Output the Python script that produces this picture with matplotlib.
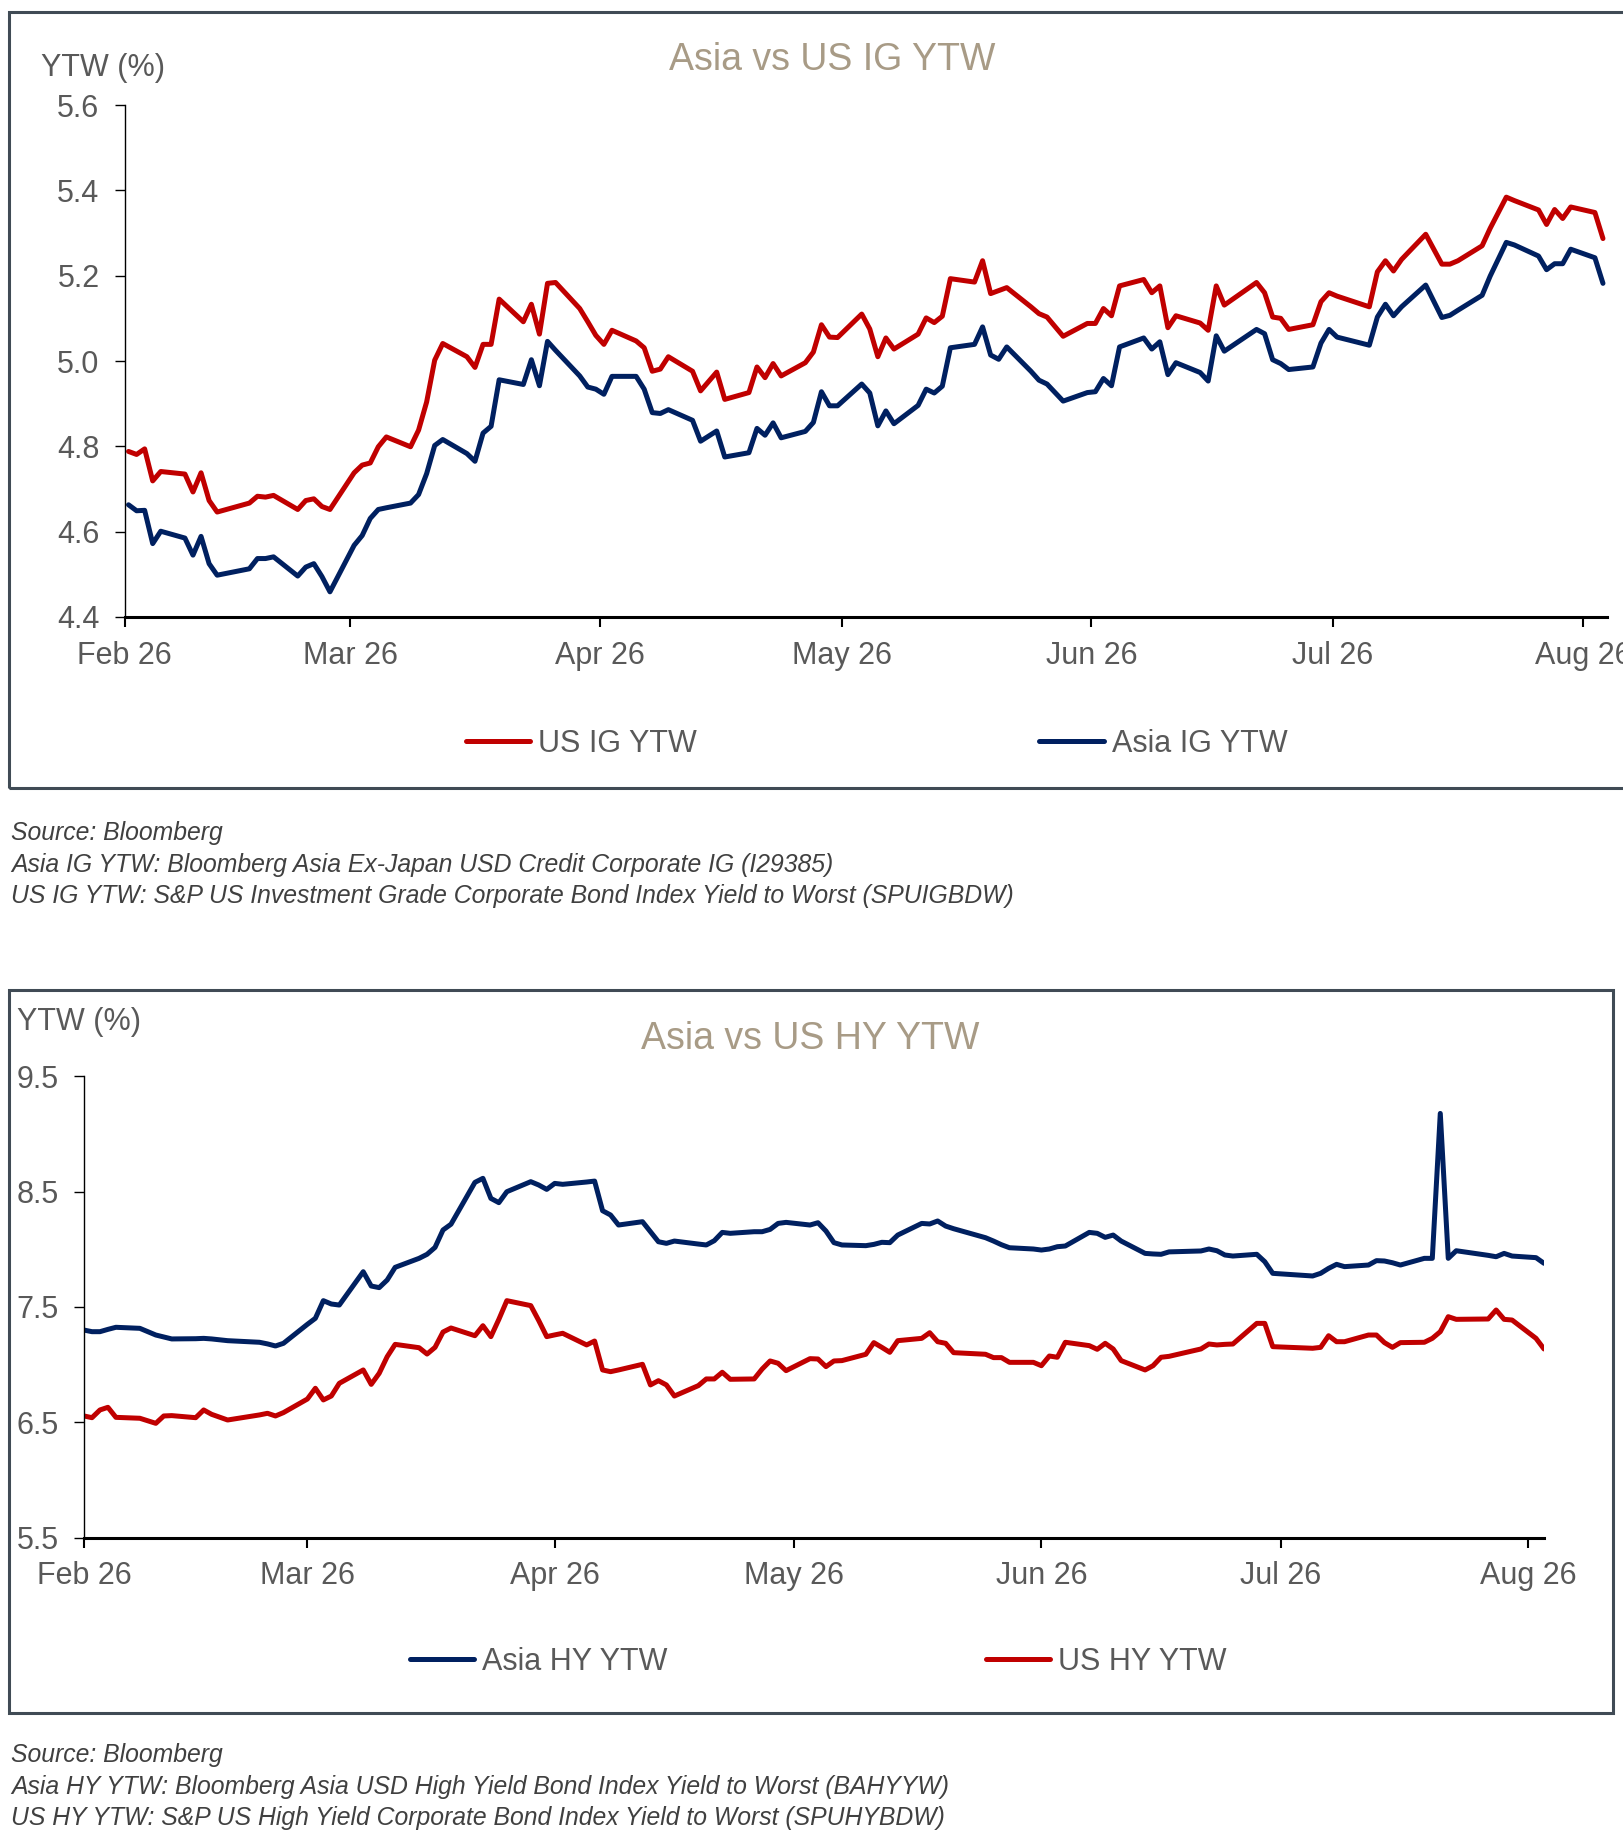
import matplotlib
matplotlib.use("Agg")
import matplotlib.pyplot as plt
import matplotlib.dates as mdates
from matplotlib.patches import Rectangle
from matplotlib.ticker import FixedLocator
import pandas as pd

plt.rcParams['font.family'] = ['Liberation Sans', 'DejaVu Sans']

# ---------------- data ----------------
YEAR = "2026"

ig_dates = [
    "02-02", "02-03", "02-04", "02-05", "02-06", "02-09", "02-10", "02-11", "02-12", "02-13",
    "02-17", "02-18", "02-19", "02-20", "02-23", "02-24", "02-25", "02-26", "02-27",
    "03-02", "03-03", "03-04", "03-05", "03-06", "03-09", "03-10", "03-11", "03-12", "03-13",
    "03-16", "03-17", "03-18", "03-19", "03-20", "03-23", "03-24", "03-25", "03-26", "03-27",
    "03-30", "03-31",
    "04-01", "04-02", "04-03", "04-06", "04-07", "04-08", "04-09", "04-10", "04-13", "04-14",
    "04-16", "04-17", "04-20", "04-21", "04-22", "04-23", "04-24", "04-27", "04-28", "04-29",
    "04-30",
    "05-01", "05-04", "05-05", "05-06", "05-07", "05-08", "05-11", "05-12", "05-13", "05-14",
    "05-15", "05-18", "05-19", "05-20", "05-21", "05-22", "05-25", "05-26", "05-27", "05-29",
    "06-01", "06-02", "06-03", "06-04", "06-05", "06-08", "06-09", "06-10", "06-11", "06-12",
    "06-15", "06-16", "06-17", "06-18", "06-22", "06-23", "06-24", "06-25", "06-26", "06-29",
    "06-30",
    "07-01", "07-02", "07-06", "07-07", "07-08", "07-09", "07-10", "07-13", "07-15", "07-16",
    "07-17", "07-20", "07-21", "07-23", "07-24", "07-27", "07-28", "07-29", "07-30", "07-31",
    "08-03", "08-04",
]
us_ig = [
    4.788, 4.781, 4.794, 4.719, 4.741, 4.735, 4.693, 4.738, 4.673, 4.646,
    4.667, 4.683, 4.681, 4.685, 4.652, 4.673, 4.677, 4.659, 4.652,
    4.738, 4.756, 4.761, 4.799, 4.822, 4.799, 4.838, 4.904, 5.002, 5.041,
    5.010, 4.985, 5.039, 5.039, 5.145, 5.092, 5.133, 5.063, 5.182, 5.184,
    5.123, 5.092,
    5.060, 5.039, 5.072, 5.047, 5.031, 4.976, 4.981, 5.010, 4.976, 4.930,
    4.974, 4.910, 4.926, 4.986, 4.961, 4.994, 4.965, 4.996, 5.021, 5.085,
    5.056,
    5.055, 5.110, 5.075, 5.010, 5.054, 5.028, 5.063, 5.101, 5.090, 5.105,
    5.193, 5.185, 5.235, 5.158, 5.165, 5.172, 5.127, 5.111, 5.103, 5.058,
    5.088, 5.088, 5.123, 5.106, 5.176, 5.191, 5.160, 5.176, 5.078, 5.106,
    5.089, 5.072, 5.176, 5.131, 5.184, 5.160, 5.103, 5.100, 5.074, 5.085,
    5.139,
    5.160, 5.152, 5.127, 5.209, 5.235, 5.211, 5.238, 5.297, 5.227, 5.227,
    5.235, 5.270, 5.311, 5.384, 5.376, 5.354, 5.320, 5.355, 5.334, 5.361,
    5.348, 5.287,
]
asia_ig = [
    4.663, 4.649, 4.650, 4.572, 4.601, 4.585, 4.545, 4.589, 4.525, 4.498,
    4.513, 4.537, 4.537, 4.541, 4.496, 4.517, 4.525, 4.495, 4.459,
    4.568, 4.591, 4.631, 4.652, 4.656, 4.667, 4.687, 4.736, 4.802, 4.816,
    4.783, 4.765, 4.831, 4.847, 4.956, 4.945, 5.003, 4.942, 5.046, 5.025,
    4.965, 4.939,
    4.934, 4.922, 4.964, 4.964, 4.934, 4.879, 4.877, 4.886, 4.861, 4.812,
    4.836, 4.775, 4.785, 4.842, 4.826, 4.855, 4.820, 4.835, 4.856, 4.928,
    4.895,
    4.895, 4.946, 4.925, 4.848, 4.883, 4.853, 4.896, 4.934, 4.925, 4.941,
    5.031, 5.039, 5.080, 5.014, 5.004, 5.033, 4.976, 4.955, 4.946, 4.906,
    4.926, 4.928, 4.959, 4.942, 5.033, 5.054, 5.028, 5.045, 4.968, 4.996,
    4.973, 4.953, 5.059, 5.023, 5.074, 5.064, 5.003, 4.994, 4.980, 4.986,
    5.042,
    5.074, 5.056, 5.037, 5.103, 5.133, 5.106, 5.127, 5.178, 5.102, 5.107,
    5.119, 5.154, 5.199, 5.278, 5.272, 5.246, 5.214, 5.228, 5.228, 5.262,
    5.242, 5.182,
]

hy_dates = [
    "02-02", "02-03", "02-04", "02-05", "02-06", "02-09", "02-11", "02-12", "02-13", "02-16",
    "02-17", "02-18", "02-20", "02-24", "02-25", "02-26", "02-27",
    "03-02", "03-03", "03-04", "03-05", "03-06", "03-09", "03-10", "03-11", "03-12", "03-13",
    "03-16", "03-17", "03-18", "03-19", "03-20", "03-23", "03-24", "03-25", "03-26", "03-27",
    "03-30", "03-31",
    "04-01", "04-02", "04-03", "04-06", "04-07", "04-08", "04-09", "04-10", "04-13", "04-14",
    "04-15", "04-16", "04-17", "04-20", "04-21", "04-22", "04-23", "04-24", "04-27", "04-28",
    "04-29", "04-30",
    "05-01", "05-04", "05-05", "05-06", "05-07", "05-08", "05-11", "05-12", "05-13", "05-14",
    "05-15", "05-18", "05-19", "05-20", "05-21", "05-22", "05-26", "05-27", "05-28", "05-29",
    "06-01", "06-02", "06-03", "06-04", "06-05", "06-08", "06-09", "06-10", "06-11", "06-12",
    "06-15", "06-16", "06-17", "06-18", "06-22", "06-23", "06-24", "06-25", "06-26", "06-29",
    "06-30",
    "07-01", "07-06", "07-07", "07-08", "07-09", "07-10", "07-13", "07-14", "07-15", "07-16",
    "07-17", "07-20", "07-21", "07-22", "07-23", "07-24", "07-28", "07-29", "07-30", "07-31",
    "08-03", "08-04",
]
asia_hy = [
    7.300, 7.286, 7.286, 7.306, 7.324, 7.315, 7.257, 7.240, 7.223, 7.225,
    7.228, 7.223, 7.208, 7.194, 7.180, 7.162, 7.185,
    7.350, 7.402, 7.555, 7.526, 7.517, 7.806, 7.682, 7.668, 7.734, 7.844,
    7.922, 7.957, 8.017, 8.168, 8.218, 8.581, 8.616, 8.442, 8.405, 8.500,
    8.587, 8.558,
    8.520, 8.572, 8.564, 8.584, 8.592, 8.335, 8.298, 8.211, 8.240, 8.153,
    8.066, 8.052, 8.072, 8.046, 8.038, 8.075, 8.147, 8.139, 8.153, 8.153,
    8.173, 8.225,
    8.234, 8.211, 8.231, 8.159, 8.058, 8.038, 8.032, 8.043, 8.061, 8.058,
    8.124, 8.225, 8.220, 8.246, 8.202, 8.179, 8.101, 8.072, 8.040, 8.014,
    8.003, 7.994, 8.003, 8.023, 8.029, 8.147, 8.139, 8.104, 8.124, 8.072,
    7.965, 7.960, 7.957, 7.978, 7.986, 8.003, 7.988, 7.951, 7.942, 7.957,
    7.893,
    7.792, 7.769, 7.792, 7.835, 7.870, 7.850, 7.864, 7.902, 7.899, 7.884,
    7.864, 7.922, 7.922, 9.179, 7.922, 7.988, 7.948, 7.936, 7.965, 7.942,
    7.928, 7.879,
]
us_hy = [
    6.555, 6.540, 6.607, 6.630, 6.543, 6.535, 6.491, 6.555, 6.558, 6.540,
    6.607, 6.569, 6.520, 6.564, 6.578, 6.555, 6.584,
    6.702, 6.795, 6.694, 6.728, 6.838, 6.954, 6.829, 6.925, 7.069, 7.176,
    7.147, 7.092, 7.150, 7.283, 7.318, 7.251, 7.338, 7.243, 7.393, 7.555,
    7.512, 7.382,
    7.243, 7.258, 7.272, 7.171, 7.205, 6.954, 6.939, 6.954, 7.003, 6.824,
    6.861, 6.824, 6.728, 6.818, 6.876, 6.876, 6.934, 6.873, 6.876, 6.962,
    7.032, 7.012,
    6.948, 7.052, 7.049, 6.983, 7.032, 7.035, 7.090, 7.191, 7.150, 7.107,
    7.208, 7.228, 7.277, 7.199, 7.185, 7.104, 7.090, 7.061, 7.061, 7.020,
    7.020, 6.991, 7.075, 7.064, 7.194, 7.165, 7.133, 7.185, 7.136, 7.035,
    6.954, 6.991, 7.064, 7.072, 7.136, 7.179, 7.171, 7.176, 7.179, 7.358,
    7.358,
    7.156, 7.142, 7.150, 7.251, 7.199, 7.199, 7.257, 7.257, 7.191, 7.150,
    7.191, 7.194, 7.228, 7.286, 7.416, 7.393, 7.396, 7.474, 7.393, 7.387,
    7.228, 7.136,
]

month_ticks = ["02-02", "03-02", "04-02", "05-02", "06-02", "07-02", "08-02"]
month_labels = ["Feb 26", "Mar 26", "Apr 26", "May 26", "Jun 26", "Jul 26", "Aug 26"]
ig_yticks = [4.4, 4.6, 4.8, 5.0, 5.2, 5.4, 5.6]
ig_yticklabels = ["4.4", "4.6", "4.8", "5.0", "5.2", "5.4", "5.6"]
hy_yticks = [5.5, 6.5, 7.5, 8.5, 9.5]
hy_yticklabels = ["5.5", "6.5", "7.5", "8.5", "9.5"]

ig_notes = [
    "Source: Bloomberg",
    "Asia IG YTW: Bloomberg Asia Ex-Japan USD Credit Corporate IG (I29385)",
    "US IG YTW: S&P US Investment Grade Corporate Bond Index Yield to Worst (SPUIGBDW)",
]
hy_notes = [
    "Source: Bloomberg",
    "Asia HY YTW: Bloomberg Asia USD High Yield Bond Index Yield to Worst (BAHYYW)",
    "US HY YTW: S&P US High Yield Corporate Bond Index Yield to Worst (SPUHYBDW)",
]

assert len(ig_dates) == len(us_ig) == len(asia_ig)
assert len(hy_dates) == len(asia_hy) == len(us_hy)


def to_dt(lst):
    return pd.to_datetime([f"{YEAR}-{d}" for d in lst])


# ---------------- style ----------------
RED = "#C00000"
NAVY = "#002060"
GREY = "#595959"
TITLE_C = "#A89B86"
FRAME_C = "#404B55"
NOTE_C = "#404040"
LW = 3.6
W, H = 1623, 1835

fig = plt.figure(figsize=(W / 100, H / 100), dpi=100)


def fx(px):
    return px / W


def fy(py):
    return 1 - py / H


def style_axes(ax, yt, ytl, xt, ylim, xlim):
    ax.set_ylim(*ylim)
    ax.set_xlim(*xlim)
    ax.yaxis.set_major_locator(FixedLocator(yt))
    ax.set_yticklabels(ytl)
    ax.xaxis.set_major_locator(FixedLocator(mdates.date2num(to_dt(xt))))
    ax.set_xticklabels(month_labels)
    for s in ("top", "right"):
        ax.spines[s].set_visible(False)
    ax.spines["left"].set_linewidth(1.0)
    ax.spines["bottom"].set_linewidth(2.2)
    ax.tick_params(axis="y", length=7, width=1.0, pad=11, labelsize=22,
                   labelcolor=GREY, direction="out")
    ax.tick_params(axis="x", length=7, width=1.5, pad=10, labelsize=22,
                   labelcolor=GREY, direction="out")
    ax.set_facecolor("none")


# ---------------- IG chart ----------------
ax1 = fig.add_axes([fx(124.5), fy(617), fx(1607) - fx(124.5), 512 / H])
xig = to_dt(ig_dates) + pd.Timedelta(hours=12)
l_us, = ax1.plot(xig, us_ig, color=RED, lw=LW, solid_joinstyle="round",
                 solid_capstyle="round", label="US IG YTW")
l_as, = ax1.plot(xig, asia_ig, color=NAVY, lw=LW, solid_joinstyle="round",
                 solid_capstyle="round", label="Asia IG YTW")
style_axes(ax1, ig_yticks, ig_yticklabels, month_ticks, (4.4, 5.6),
           (pd.Timestamp(f"{YEAR}-02-02"), pd.Timestamp(f"{YEAR}-08-05")))

fig.add_artist(Rectangle((fx(9), fy(788)), fx(1650) - fx(9), (788 - 12) / H,
                         transform=fig.transFigure, fill=False, lw=2.2,
                         edgecolor=FRAME_C, clip_on=False))
fig.text(fx(832), fy(60), "Asia vs US IG YTW", ha="center", va="center",
         fontsize=27, color=TITLE_C)
fig.text(fx(41), fy(68), "YTW (%)", ha="left", va="center", fontsize=22, color=GREY)
fig.legend(handles=[l_us, l_as], loc="center left",
           bbox_to_anchor=(fx(466), fy(744)), ncol=2, frameon=False,
           fontsize=22, handlelength=2.1, handletextpad=0.27,
           columnspacing=11.2, borderpad=0, borderaxespad=0, labelcolor=GREY)
for i, t in enumerate(ig_notes):
    fig.text(fx(11), fy(833 + i * 31.5), t, ha="left", va="center",
             fontsize=17.8, style="italic", color=NOTE_C)

# ---------------- HY chart ----------------
ax2 = fig.add_axes([fx(84), fy(1537.6), fx(1544) - fx(84), 461.2 / H])
xhy = to_dt(hy_dates)
l_ahy, = ax2.plot(xhy, asia_hy, color=NAVY, lw=LW, solid_joinstyle="round",
                  solid_capstyle="round", label="Asia HY YTW")
l_uhy, = ax2.plot(xhy, us_hy, color=RED, lw=LW, solid_joinstyle="round",
                  solid_capstyle="round", label="US HY YTW")
style_axes(ax2, hy_yticks, hy_yticklabels, month_ticks, (5.5, 9.5),
           (pd.Timestamp(f"{YEAR}-02-02"), pd.Timestamp(f"{YEAR}-08-04")))

fig.add_artist(Rectangle((fx(9), fy(1713)), fx(1613) - fx(9), (1713 - 990) / H,
                         transform=fig.transFigure, fill=False, lw=2.2,
                         edgecolor=FRAME_C, clip_on=False))
fig.text(fx(810), fy(1039), "Asia vs US HY YTW", ha="center", va="center",
         fontsize=27, color=TITLE_C)
fig.text(fx(17), fy(1022), "YTW (%)", ha="left", va="center", fontsize=22, color=GREY)
fig.legend(handles=[l_ahy, l_uhy], loc="center left",
           bbox_to_anchor=(fx(410), fy(1662)), ncol=2, frameon=False,
           fontsize=22, handlelength=2.1, handletextpad=0.27,
           columnspacing=10.4, borderpad=0, borderaxespad=0, labelcolor=GREY)
for i, t in enumerate(hy_notes):
    fig.text(fx(11), fy(1755 + i * 31.5), t, ha="left", va="center",
             fontsize=17.8, style="italic", color=NOTE_C)

fig.savefig("out.png", dpi=100, facecolor="white")
